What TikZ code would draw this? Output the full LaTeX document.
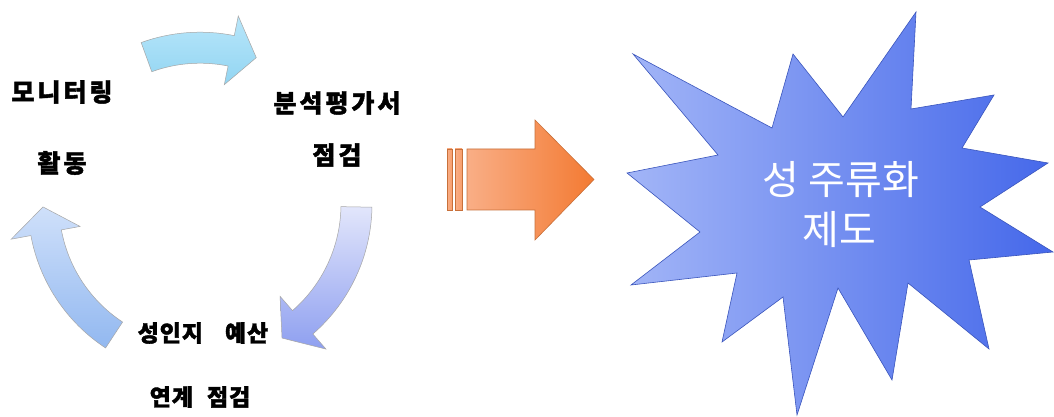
\documentclass[tikz,border=0pt]{standalone}
\usepackage{fontspec}
\newfontfamily\kr{Noto Sans CJK KR}
\newfontfamily\krb[BoldFeatures={FakeBold=1.6}]{Noto Sans CJK KR}
\usetikzlibrary{shadings}
\definecolor{cyanA}{HTML}{B8E6FA}
\definecolor{cyanB}{HTML}{92D5F2}
\definecolor{lavA}{HTML}{E2E6FB}
\definecolor{lavB}{HTML}{8E9FF0}
\definecolor{bluA}{HTML}{CFE0FA}
\definecolor{bluB}{HTML}{92B8F0}
\definecolor{orA}{HTML}{F9AE86}
\definecolor{orB}{HTML}{F37A32}
\definecolor{orLine}{HTML}{C8703A}
\definecolor{starA}{HTML}{A2B5F7}
\definecolor{starB}{HTML}{4568EA}
\definecolor{starLine}{HTML}{3A55BC}
\tikzset{
  cyclearrow/.style={draw=gray!70, line width=0.5pt, line join=miter},
  lbl/.style={font=\krb\bfseries\fontsize{25}{29}\selectfont\addfontfeature{LetterSpace=12}, text=black, inner sep=0pt},
  lblsmall/.style={font=\krb\bfseries\fontsize{23}{27}\selectfont\addfontfeature{LetterSpace=4}, text=black, inner sep=0pt},
  startext/.style={font=\kr\fontsize{40}{48}\selectfont, text=white, inner sep=0pt},
}
\begin{document}
\begin{tikzpicture}[x=1pt,y=1pt]
\useasboundingbox (0,0) rectangle (1054,417);
\fill[white] (0,0) rectangle (1054,417);

% cycle arrows
\begin{scope}[shift={(200,212.8)}]
  % top arrow
  \shadedraw[cyclearrow, top color=cyanA, bottom color=cyanB]
    (110:172) arc[start angle=110, end angle=78.5, radius=172]
    -- (78.5:192) -- (69:157) -- (78.5:122) -- (78.5:141)
    arc[start angle=78.5, end angle=110, radius=141] -- cycle;
  % right arrow
  \shadedraw[cyclearrow, top color=lavA, bottom color=lavB]
    (-1:172) arc[start angle=-1, end angle=-49, radius=172]
    -- (-49:192) -- (-58.5:157) -- (-49:122) -- (-49:141)
    arc[start angle=-49, end angle=-1, radius=141] -- cycle;
  % left arrow
  \shadedraw[cyclearrow, top color=bluA, bottom color=bluB]
    (236.7:172) arc[start angle=236.7, end angle=190.5, radius=172]
    -- (190.5:192) -- (181:157) -- (190.5:122) -- (190.5:141)
    arc[start angle=190.5, end angle=236.7, radius=141] -- cycle;
\end{scope}

% labels
\node[lbl] (mon) at (62,325) {모니터링};
\node[lbl] (act) at (62,254) {활동};
\node[lbl] (ana) at (337,314) {분석평가서};
\node[lbl] (chk) at (337,262) {점검};
\node[lblsmall] (gen) at (203,84) {성인지\hspace{22pt}예산};
\node[lblsmall] (lnk) at (200,20) {연계\hspace{14pt}점검};

% orange arrow
\shadedraw[draw=orLine, line width=0.6pt, left color=orA, right color=orA!70!orB]
  (447,207) rectangle (452,268);
\shadedraw[draw=orLine, line width=0.6pt, left color=orA, right color=orA!70!orB]
  (455,207) rectangle (462,268);
\shadedraw[draw=orLine, line width=0.6pt, line join=miter, left color=orA, right color=orB]
  (467,207) -- (467,268) -- (535,268) -- (535,297) -- (594,237.5)
  -- (535,177) -- (535,207) -- cycle;

% star
\shadedraw[draw=starLine, line width=0.6pt, line join=miter, left color=starA, right color=starB]
  (633,363) -- (772,289) -- (793,363) -- (843,300) -- (916,405) -- (911,308)
  -- (994,322) -- (962,269) -- (1048,254) -- (980,210) -- (1053,165)
  -- (969,157) -- (989,68) -- (908,134) -- (892,37) -- (838,129)
  -- (797,2) -- (783,120) -- (722,75) -- (737,144) -- (631,132)
  -- (700,185) -- (627,244) -- (718,262) -- cycle;
\node[startext] (st1) at (841,237) {성 주류화};
\node[startext] (st2) at (839,187) {제도};
\end{tikzpicture}
\end{document}
